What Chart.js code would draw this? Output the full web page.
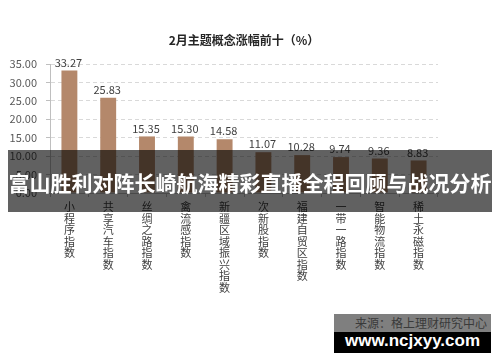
<!DOCTYPE html>
<html>
<head>
<meta charset="utf-8">
<script src="https://cdn.jsdelivr.net/npm/chart.js@4.4.1/dist/chart.umd.min.js"></script>
<style>
html,body{margin:0;padding:0;background:#fff;}
#wrap{position:relative;width:500px;height:362px;overflow:hidden;background:#fff;}
#c{position:absolute;left:0;top:0;}
.banner{position:absolute;left:8px;top:150px;width:484px;height:62px;background:rgba(0,0,0,0.62);color:#fff;font-family:"Noto Sans CJK SC",sans-serif;font-weight:bold;font-size:21px;line-height:64px;text-align:center;white-space:nowrap;letter-spacing:0px;}
.src{position:absolute;left:334px;top:314px;width:157px;height:18px;background:#7f7f7f;color:#3a3a3a;font-family:"Noto Sans CJK SC",sans-serif;font-size:12px;line-height:18px;text-align:right;white-space:nowrap;padding-right:0;box-sizing:border-box;padding-right:4px;}
.wm{position:absolute;left:334px;top:332px;width:157px;height:21px;background:#000;color:#fff;font-family:"Liberation Sans",Arial,sans-serif;font-weight:bold;font-size:17px;line-height:18px;text-align:center;white-space:nowrap;}
</style>
</head>
<body>
<div id="wrap">
<canvas id="c" width="500" height="362"></canvas>
<div class="banner" id="banner"></div>
<div class="src" id="src"></div>
<div class="wm" id="wm"></div>
</div>
<script>
const chartTitle = '2月主题概念涨幅前十（%）';
const categories = ['小程序指数','共享汽车指数','丝绸之路指数','禽流感指数','新疆区域振兴指数','次新股指数','福建自贸区指数','一带一路指数','智能物流指数','稀土永磁指数'];
const values = [33.27, 25.83, 15.35, 15.30, 14.58, 11.07, 10.28, 9.74, 9.36, 8.83];
const yTicks = [0, 5, 10, 15, 20, 25, 30, 35];
const bannerText = '富山胜利对阵长崎航海精彩直播全程回顾与战况分析';
const sourceText = '来源：格上理财研究中心';
const watermarkText = 'www.ncjxyy.com';

document.getElementById('banner').textContent = bannerText;
document.getElementById('src').textContent = sourceText;
document.getElementById('wm').textContent = watermarkText;

const FONT = '"Noto Sans CJK SC", "Noto Sans", sans-serif';

const titlePlugin = {
  id: 'titleDraw',
  afterDraw(chart) {
    const ctx = chart.ctx;
    const a = chart.chartArea;
    ctx.save();
    ctx.font = 'bold 12px ' + FONT;
    ctx.fillStyle = '#262626';
    ctx.textAlign = 'center';
    ctx.textBaseline = 'middle';
    ctx.fillText(chartTitle, (a.left + a.right) / 2, 40);
    ctx.restore();
  }
};

const valueLabels = {
  id: 'valueLabels',
  afterDatasetsDraw(chart) {
    const ctx = chart.ctx;
    const meta = chart.getDatasetMeta(0);
    ctx.save();
    ctx.font = '11px ' + FONT;
    ctx.fillStyle = '#404040';
    ctx.textAlign = 'center';
    ctx.textBaseline = 'middle';
    meta.data.forEach((bar, i) => {
      ctx.fillText(values[i].toFixed(2), bar.x - 1, bar.y - 8);
    });
    ctx.restore();
  }
};

new Chart(document.getElementById('c'), {
  type: 'bar',
  data: {
    labels: categories.map(s => Array.from(s)),
    datasets: [{
      data: values,
      backgroundColor: '#b4886b',
      borderWidth: 0,
      barPercentage: 0.41,
      categoryPercentage: 1.0
    }]
  },
  options: {
    responsive: false,
    animation: false,
    devicePixelRatio: 1,
    layout: { padding: { left: 0, right: 62, top: 64, bottom: 0 } },
    plugins: { legend: { display: false }, tooltip: { enabled: false }, title: { display: false } },
    scales: {
      x: {
        grid: { display: true, drawOnChartArea: false, offset: true, tickLength: 4, color: '#bfbfbf', tickColor: '#bfbfbf' },
        border: { color: '#bfbfbf', width: 1 },
        ticks: { maxRotation: 0, minRotation: 0, autoSkip: false, color: '#404040', padding: 4, font: { family: FONT, size: 11, lineHeight: 1.05 } },
        afterFit(s) { s.height = 169; }
      },
      y: {
        min: 0, max: 35,
        afterBuildTicks(s) { s.ticks = yTicks.map(v => ({ value: v })); },
        grid: { color: '#d9d9d9', tickLength: 4, tickColor: '#bfbfbf', tickBorderDash: [] },
        border: { color: '#bfbfbf', width: 1, dash: [4, 3] },
        ticks: { color: '#595959', padding: 9, font: { family: FONT, size: 11 }, callback: v => Number(v).toFixed(2) },
        afterFit(s) { s.width = 50; }
      }
    }
  },
  plugins: [titlePlugin, valueLabels]
});
</script>
</body>
</html>
